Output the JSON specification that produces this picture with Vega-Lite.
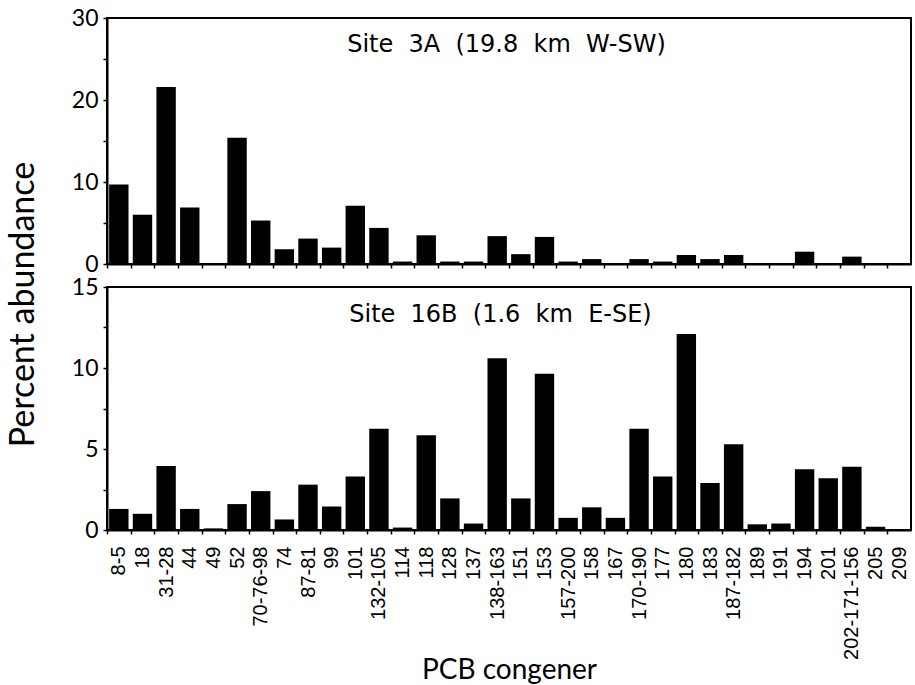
{
  "$schema": "https://vega.github.io/schema/vega-lite/v6.json",
  "autosize": {"type": "pad"},
  "padding": {"left": 4, "top": 6, "right": 2, "bottom": 2},
  "background": "white",
  "spacing": 23,
  "bounds": "flush",
  "datasets": {
    "abundance": [
      {"congener": "8-5", "site": "3A", "value": 9.7},
      {"congener": "18", "site": "3A", "value": 6.0},
      {"congener": "31-28", "site": "3A", "value": 21.6},
      {"congener": "44", "site": "3A", "value": 6.9},
      {"congener": "49", "site": "3A", "value": 0},
      {"congener": "52", "site": "3A", "value": 15.4},
      {"congener": "70-76-98", "site": "3A", "value": 5.3},
      {"congener": "74", "site": "3A", "value": 1.8},
      {"congener": "87-81", "site": "3A", "value": 3.1},
      {"congener": "99", "site": "3A", "value": 2.0},
      {"congener": "101", "site": "3A", "value": 7.1},
      {"congener": "132-105", "site": "3A", "value": 4.4},
      {"congener": "114", "site": "3A", "value": 0.3},
      {"congener": "118", "site": "3A", "value": 3.5},
      {"congener": "128", "site": "3A", "value": 0.3},
      {"congener": "137", "site": "3A", "value": 0.3},
      {"congener": "138-163", "site": "3A", "value": 3.4},
      {"congener": "151", "site": "3A", "value": 1.2},
      {"congener": "153", "site": "3A", "value": 3.3},
      {"congener": "157-200", "site": "3A", "value": 0.3},
      {"congener": "158", "site": "3A", "value": 0.6},
      {"congener": "167", "site": "3A", "value": 0.1},
      {"congener": "170-190", "site": "3A", "value": 0.6},
      {"congener": "177", "site": "3A", "value": 0.3},
      {"congener": "180", "site": "3A", "value": 1.1},
      {"congener": "183", "site": "3A", "value": 0.6},
      {"congener": "187-182", "site": "3A", "value": 1.1},
      {"congener": "189", "site": "3A", "value": 0.05},
      {"congener": "191", "site": "3A", "value": 0.1},
      {"congener": "194", "site": "3A", "value": 1.5},
      {"congener": "201", "site": "3A", "value": 0.1},
      {"congener": "202-171-156", "site": "3A", "value": 0.9},
      {"congener": "205", "site": "3A", "value": 0},
      {"congener": "209", "site": "3A", "value": 0},
      {"congener": "8-5", "site": "16B", "value": 1.3},
      {"congener": "18", "site": "16B", "value": 1.0},
      {"congener": "31-28", "site": "16B", "value": 3.95},
      {"congener": "44", "site": "16B", "value": 1.3},
      {"congener": "49", "site": "16B", "value": 0.1},
      {"congener": "52", "site": "16B", "value": 1.6},
      {"congener": "70-76-98", "site": "16B", "value": 2.4},
      {"congener": "74", "site": "16B", "value": 0.65},
      {"congener": "87-81", "site": "16B", "value": 2.8},
      {"congener": "99", "site": "16B", "value": 1.45},
      {"congener": "101", "site": "16B", "value": 3.3},
      {"congener": "132-105", "site": "16B", "value": 6.25},
      {"congener": "114", "site": "16B", "value": 0.15},
      {"congener": "118", "site": "16B", "value": 5.85},
      {"congener": "128", "site": "16B", "value": 1.95},
      {"congener": "137", "site": "16B", "value": 0.4},
      {"congener": "138-163", "site": "16B", "value": 10.6},
      {"congener": "151", "site": "16B", "value": 1.95},
      {"congener": "153", "site": "16B", "value": 9.65},
      {"congener": "157-200", "site": "16B", "value": 0.75},
      {"congener": "158", "site": "16B", "value": 1.4},
      {"congener": "167", "site": "16B", "value": 0.75},
      {"congener": "170-190", "site": "16B", "value": 6.25},
      {"congener": "177", "site": "16B", "value": 3.3},
      {"congener": "180", "site": "16B", "value": 12.1},
      {"congener": "183", "site": "16B", "value": 2.9},
      {"congener": "187-182", "site": "16B", "value": 5.3},
      {"congener": "189", "site": "16B", "value": 0.35},
      {"congener": "191", "site": "16B", "value": 0.4},
      {"congener": "194", "site": "16B", "value": 3.75},
      {"congener": "201", "site": "16B", "value": 3.2},
      {"congener": "202-171-156", "site": "16B", "value": 3.9},
      {"congener": "205", "site": "16B", "value": 0.2},
      {"congener": "209", "site": "16B", "value": 0.05}
    ],
    "labels3A": [{"label": "Site \u00a03A \u00a0(19.8 \u00a0km \u00a0W-SW)"}],
    "labels16B": [{"label": "Site \u00a016B \u00a0(1.6 \u00a0km \u00a0E-SE)"}]
  },
  "config": {
    "view": {"stroke": "black", "strokeWidth": 2},
    "axis": {
      "domainColor": "black",
      "domainWidth": 2,
      "tickColor": "black",
      "tickWidth": 1.5,
      "tickSize": 4,
      "labelColor": "black",
      "titleColor": "black",
      "grid": false
    }
  },
  "vconcat": [
    {
      "width": 804,
      "height": 246,
      "layer": [
        {
          "data": {"name": "abundance"},
          "transform": [{"filter": "datum.site === '3A'"}],
          "mark": {"type": "bar", "color": "black"},
          "encoding": {
            "x": {
              "field": "congener",
              "type": "nominal",
              "scale": {
                "domain": ["8-5", "18", "31-28", "44", "49", "52", "70-76-98", "74", "87-81", "99", "101", "132-105", "114", "118", "128", "137", "138-163", "151", "153", "157-200", "158", "167", "170-190", "177", "180", "183", "187-182", "189", "191", "194", "201", "202-171-156", "205", "209"],
                "paddingInner": 0.18,
                "paddingOuter": 0.09
              },
              "axis": {
                "labels": false,
                "title": null,
                "bandPosition": 0,
                "tickOffset": -2.13
              }
            },
            "y": {
              "field": "value",
              "type": "quantitative",
              "scale": {"domain": [0, 30], "nice": false},
              "axis": {
                "values": [0, 5, 10, 15, 20, 25, 30],
                "labelExpr": "datum.value % 10 === 0 ? datum.label : ''",
                "labelFont": "Lato",
                "labelFontSize": 23,
                "labelPadding": 5,
                "title": null
              }
            }
          }
        },
        {
          "data": {"name": "labels3A"},
          "mark": {"type": "text", "font": "DejaVu Sans", "fontSize": 24, "align": "center", "baseline": "alphabetic", "color": "black"},
          "encoding": {
            "text": {"field": "label"},
            "x": {"datum": "138-163", "type": "nominal", "bandPosition": 0.98, "title": null},
            "y": {"datum": 25.85, "type": "quantitative", "title": null}
          }
        }
      ]
    },
    {
      "width": 804,
      "height": 243,
      "layer": [
        {
          "data": {"name": "abundance"},
          "transform": [{"filter": "datum.site === '16B'"}],
          "mark": {"type": "bar", "color": "black"},
          "encoding": {
            "x": {
              "field": "congener",
              "type": "nominal",
              "scale": {
                "domain": ["8-5", "18", "31-28", "44", "49", "52", "70-76-98", "74", "87-81", "99", "101", "132-105", "114", "118", "128", "137", "138-163", "151", "153", "157-200", "158", "167", "170-190", "177", "180", "183", "187-182", "189", "191", "194", "201", "202-171-156", "205", "209"],
                "paddingInner": 0.18,
                "paddingOuter": 0.09
              },
              "axis": {
                "bandPosition": 0,
                "tickOffset": -2.13,
                "labelOffset": 2.13,
                "labelAngle": -90,
                "labelFont": "Liberation Sans",
                "labelFontSize": 20,
                "labelPadding": 12,
                "title": "PCB congener",
                "titleFont": "Lato",
                "titleFontSize": 28,
                "titleFontWeight": "normal",
                "titleX": 402,
                "titleY": 148,
                "titleAlign": "center",
                "titleBaseline": "alphabetic"
              }
            },
            "y": {
              "field": "value",
              "type": "quantitative",
              "scale": {"domain": [0, 15], "nice": false},
              "axis": {
                "values": [0, 2.5, 5, 7.5, 10, 12.5, 15],
                "labelExpr": "datum.value % 5 === 0 ? datum.label : ''",
                "labelFont": "Lato",
                "labelFontSize": 23,
                "labelPadding": 5,
                "title": "Percent abundance",
                "titleFont": "Lato",
                "titleFontSize": 34,
                "titleFontWeight": "normal",
                "titleAngle": 270,
                "titleX": -74,
                "titleY": 17,
                "titleAlign": "center",
                "titleBaseline": "alphabetic"
              }
            }
          }
        },
        {
          "data": {"name": "labels16B"},
          "mark": {"type": "text", "font": "DejaVu Sans", "fontSize": 24, "align": "center", "baseline": "alphabetic", "color": "black"},
          "encoding": {
            "text": {"field": "label"},
            "x": {"datum": "138-163", "type": "nominal", "bandPosition": 0.67, "title": "PCB congener"},
            "y": {"datum": 12.84, "type": "quantitative", "title": "Percent abundance"}
          }
        }
      ]
    }
  ]
}
